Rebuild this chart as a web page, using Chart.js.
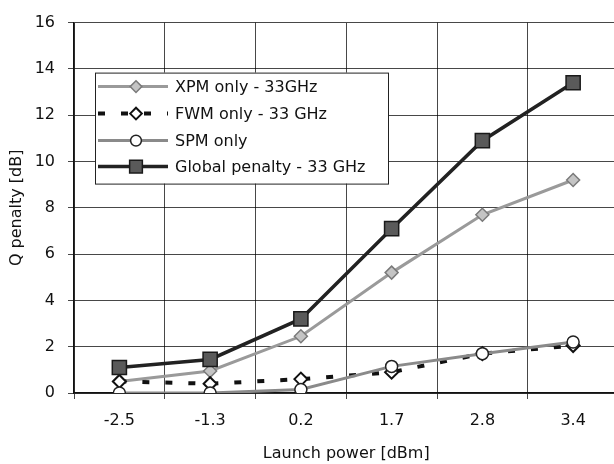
<!DOCTYPE html>
<html>
<head>
<meta charset="utf-8">
<script src="https://cdn.jsdelivr.net/npm/chart.js@4/dist/chart.umd.min.js"></script>
<style>
  html, body { margin: 0; padding: 0; background: #fff; overflow: hidden; }
  #wrap { width: 614px; height: 464px; overflow: hidden; position: relative; }
  canvas { display: block; }
</style>
</head>
<body>
<div id="wrap"><canvas id="c" width="630" height="464"></canvas></div>
<script>
const categories = ['-2.5', '-1.3', '0.2', '1.7', '2.8', '3.4'];
const xpmOnly = [0.5, 0.95, 2.45, 5.2, 7.7, 9.2];
const fwmOnly = [0.5, 0.4, 0.6, 0.9, 1.7, 2.05];
const spmOnly = [0.0, 0.0, 0.15, 1.15, 1.7, 2.2];
const globalPenalty = [1.1, 1.45, 3.2, 7.1, 10.9, 13.4];
const seriesNames = ['XPM only - 33GHz', 'FWM only - 33 GHz', 'SPM only', 'Global penalty - 33 GHz'];
const yTicks = [0, 2, 4, 6, 8, 10, 12, 14, 16];

const FONT = 'DejaVu Sans';

const datasets = [
  { label: seriesNames[0], data: xpmOnly, borderColor: '#9a9a9a', borderWidth: 3,
    pointStyle: 'rectRot', pointRadius: 6.5, pointBackgroundColor: '#c4c4c4',
    pointBorderColor: '#7a7a7a', pointBorderWidth: 1.5, order: 3 },
  { label: seriesNames[1], data: fwmOnly, borderColor: '#111', borderWidth: 4,
    borderDash: [7, 16], pointStyle: 'rectRot', pointRadius: 6.5,
    pointBackgroundColor: '#fff', pointBorderColor: '#111', pointBorderWidth: 2, order: 2 },
  { label: seriesNames[2], data: spmOnly, borderColor: '#8a8a8a', borderWidth: 3,
    pointStyle: 'circle', pointRadius: 6, pointBackgroundColor: '#fff',
    pointBorderColor: '#222', pointBorderWidth: 1.5, order: 1 },
  { label: seriesNames[3], data: globalPenalty, borderColor: '#222', borderWidth: 3.5,
    pointStyle: 'rect', pointRadius: 10, pointBackgroundColor: '#5a5a5a',
    pointBorderColor: '#1a1a1a', pointBorderWidth: 1.5, order: 0 }
];
datasets.forEach(d => { d.fill = false; d.tension = 0; d.pointHoverRadius = d.pointRadius; });

const boxLegend = {
  id: 'boxLegend',
  afterDatasetsDraw(chart) {
    const ctx = chart.ctx, ca = chart.chartArea;
    const bx = ca.left + 21, by = ca.top + 50, bw = 293, bh = 111;
    ctx.save();
    ctx.fillStyle = '#fff';
    ctx.fillRect(bx, by, bw, bh);
    ctx.strokeStyle = '#222';
    ctx.lineWidth = 1;
    ctx.strokeRect(bx + 0.5, by + 0.5, bw, bh);
    ctx.font = '16px "' + FONT + '"';
    ctx.textBaseline = 'middle';
    const rows = [14, 41, 68, 94];
    chart.data.datasets.forEach((d, i) => {
      const y = by + rows[i];
      ctx.save();
      ctx.strokeStyle = d.borderColor;
      ctx.lineWidth = d.borderWidth;
      ctx.setLineDash(d.borderDash || []);
      ctx.beginPath();
      ctx.moveTo(bx + 3, y);
      ctx.lineTo(bx + 73, y);
      ctx.stroke();
      ctx.setLineDash([]);
      ctx.fillStyle = d.pointBackgroundColor;
      ctx.strokeStyle = d.pointBorderColor;
      ctx.lineWidth = d.pointBorderWidth;
      Chart.helpers.drawPoint(ctx, {
        pointStyle: d.pointStyle, rotation: 0,
        radius: d.pointRadius * 0.9, borderWidth: d.pointBorderWidth
      }, bx + 41, y);
      ctx.restore();
      ctx.fillStyle = '#111';
      ctx.fillText(d.label, bx + 80, y + 1);
    });
    ctx.restore();
  }
};

new Chart(document.getElementById('c'), {
  type: 'line',
  data: { labels: categories, datasets },
  options: {
    responsive: false,
    animation: false,
    events: [],
    layout: { padding: { top: 14, right: 9, bottom: 0, left: 0 } },
    plugins: { legend: { display: false }, tooltip: { enabled: false } },
    scales: {
      x: {
        type: 'category',
        offset: true,
        grid: { offset: true, color: 'rgba(0,0,0,0.72)', lineWidth: 1, tickLength: 6, drawTicks: true },
        border: { color: '#111', width: 1.5 },
        ticks: { color: '#111', font: { family: FONT, size: 16 }, padding: 12 },
        title: { display: true, text: 'Launch power [dBm]', color: '#111',
                 font: { family: FONT, size: 16 }, padding: { top: 0, bottom: 1 } },
        afterFit(s) { s.height = 71; }
      },
      y: {
        min: 0, max: 16,
        afterBuildTicks(s) { s.ticks = yTicks.map(v => ({ value: v })); },
        grid: { color: 'rgba(0,0,0,0.72)', lineWidth: 1, tickLength: 6 },
        border: { color: '#111', width: 1.5 },
        ticks: { color: '#111', font: { family: FONT, size: 16 }, padding: 13 },
        title: { display: true, text: 'Q penalty [dB]', color: '#111',
                 font: { family: FONT, size: 16 }, padding: { top: 7, bottom: 0 } },
        afterFit(s) { s.width = 74; }
      }
    }
  },
  plugins: [boxLegend]
});
</script>
</body>
</html>
